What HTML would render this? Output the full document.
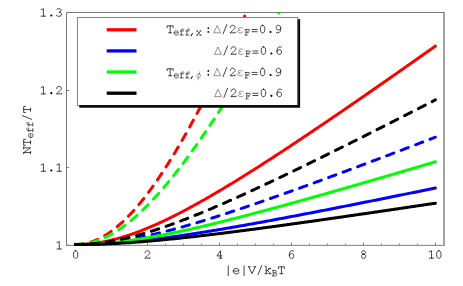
<!DOCTYPE html>
<html><head><meta charset="utf-8"><title>plot</title>
<style>html,body{margin:0;padding:0;background:#fff;}svg{display:block;}</style>
</head><body>
<svg width="463" height="286" viewBox="0 0 463 286">
<rect width="463" height="286" fill="#fff"/>
<defs><clipPath id="c"><rect x="66.5" y="18" width="378" height="227.9"/></clipPath><clipPath id="c2"><rect x="66.5" y="12.5" width="378" height="5.8"/></clipPath></defs>
<path d="M66.5 245.8V12.5H444" fill="none" stroke="#787878" stroke-width="1"/>
<path d="M444 12V245.85" fill="none" stroke="#484848" stroke-width="1"/>
<path d="M66 245.35H444.5" fill="none" stroke="#808080" stroke-width="1"/>
<path d="M75.50 245v-2.4 M93.50 245v-1.4 M111.50 245v-1.4 M129.50 245v-1.4 M147.50 245v-2.4 M165.50 245v-1.4 M183.50 245v-1.4 M201.50 245v-1.4 M219.50 245v-2.4 M237.50 245v-1.4 M255.50 245v-1.4 M273.50 245v-1.4 M291.50 245v-2.4 M309.50 245v-1.4 M327.50 245v-1.4 M345.50 245v-1.4 M363.50 245v-2.4 M381.50 245v-1.4 M399.50 245v-1.4 M417.50 245v-1.4 M435.50 245v-2.4 M67 167.50h2.4 M67 90.50h2.4 M67 245.35h2.4" stroke="#808080" stroke-width="1" fill="none"/>
<g clip-path="url(#c)" fill="none" stroke-width="3" stroke-linecap="round">
<path d="M75.40 244.50 L76.60 244.50 L77.80 244.48 L79.00 244.46 L80.20 244.42 L81.40 244.38 L82.60 244.32 L83.80 244.26 L85.00 244.18 L86.20 244.10 L87.40 244.00 L88.60 243.90 L89.80 243.78 L91.00 243.66 L92.20 243.53 L93.40 243.38 L94.60 243.23 L95.80 243.07 L97.00 242.90 L98.20 242.72 L99.40 242.53 L100.60 242.33 L101.80 242.12 L103.00 241.90 L104.20 241.67 L105.40 241.44 L106.60 241.19 L107.80 240.94 L109.00 240.67 L110.20 240.40 L111.40 240.12 L112.60 239.83 L113.80 239.54 L115.00 239.23 L116.20 238.92 L117.40 238.60 L118.60 238.27 L119.80 237.93 L121.00 237.59 L122.20 237.23 L123.40 236.87 L124.60 236.50 L125.80 236.13 L127.00 235.75 L128.20 235.36 L129.40 234.96 L130.60 234.55 L131.80 234.14 L133.00 233.72 L134.20 233.30 L135.40 232.87 L136.60 232.43 L137.80 231.98 L139.00 231.53 L140.20 231.07 L141.40 230.61 L142.60 230.14 L143.80 229.66 L145.00 229.18 L146.20 228.69 L147.40 228.20 L148.60 227.70 L149.80 227.20 L151.00 226.69 L152.20 226.17 L153.40 225.65 L154.60 225.12 L155.80 224.59 L157.00 224.05 L158.20 223.51 L159.40 222.97 L160.60 222.41 L161.80 221.86 L163.00 221.30 L164.20 220.73 L165.40 220.16 L166.60 219.59 L167.80 219.01 L169.00 218.43 L170.20 217.84 L171.40 217.25 L172.60 216.65 L173.80 216.05 L175.00 215.45 L176.20 214.84 L177.40 214.23 L178.60 213.62 L179.80 213.00 L181.00 212.38 L182.20 211.75 L183.40 211.12 L184.60 210.49 L185.80 209.85 L187.00 209.22 L188.20 208.57 L189.40 207.93 L190.60 207.28 L191.80 206.63 L193.00 205.97 L194.20 205.31 L195.40 204.65 L196.60 203.99 L197.80 203.32 L199.00 202.65 L200.20 201.98 L201.40 201.30 L202.60 200.63 L203.80 199.95 L205.00 199.26 L206.20 198.58 L207.40 197.89 L208.60 197.20 L209.80 196.51 L211.00 195.81 L212.20 195.11 L213.40 194.41 L214.60 193.71 L215.80 193.01 L217.00 192.30 L218.20 191.59 L219.40 190.88 L220.60 190.17 L221.80 189.45 L223.00 188.73 L224.20 188.02 L225.40 187.29 L226.60 186.57 L227.80 185.85 L229.00 185.12 L230.20 184.39 L231.40 183.66 L232.60 182.93 L233.80 182.19 L235.00 181.46 L236.20 180.72 L237.40 179.98 L238.60 179.24 L239.80 178.50 L241.00 177.76 L242.20 177.01 L243.40 176.26 L244.60 175.51 L245.80 174.76 L247.00 174.01 L248.20 173.26 L249.40 172.51 L250.60 171.75 L251.80 170.99 L253.00 170.23 L254.20 169.47 L255.40 168.71 L256.60 167.95 L257.80 167.19 L259.00 166.42 L260.20 165.66 L261.40 164.89 L262.60 164.12 L263.80 163.35 L265.00 162.58 L266.20 161.81 L267.40 161.03 L268.60 160.26 L269.80 159.48 L271.00 158.70 L272.20 157.93 L273.40 157.15 L274.60 156.37 L275.80 155.59 L277.00 154.80 L278.20 154.02 L279.40 153.24 L280.60 152.45 L281.80 151.67 L283.00 150.88 L284.20 150.09 L285.40 149.30 L286.60 148.51 L287.80 147.72 L289.00 146.93 L290.20 146.14 L291.40 145.34 L292.60 144.55 L293.80 143.75 L295.00 142.96 L296.20 142.16 L297.40 141.36 L298.60 140.56 L299.80 139.77 L301.00 138.97 L302.20 138.16 L303.40 137.36 L304.60 136.56 L305.80 135.76 L307.00 134.95 L308.20 134.15 L309.40 133.34 L310.60 132.54 L311.80 131.73 L313.00 130.92 L314.20 130.12 L315.40 129.31 L316.60 128.50 L317.80 127.69 L319.00 126.88 L320.20 126.07 L321.40 125.26 L322.60 124.44 L323.80 123.63 L325.00 122.82 L326.20 122.00 L327.40 121.19 L328.60 120.37 L329.80 119.56 L331.00 118.74 L332.20 117.92 L333.40 117.10 L334.60 116.29 L335.80 115.47 L337.00 114.65 L338.20 113.83 L339.40 113.01 L340.60 112.19 L341.80 111.36 L343.00 110.54 L344.20 109.72 L345.40 108.90 L346.60 108.07 L347.80 107.25 L349.00 106.43 L350.20 105.60 L351.40 104.78 L352.60 103.95 L353.80 103.12 L355.00 102.30 L356.20 101.47 L357.40 100.64 L358.60 99.81 L359.80 98.99 L361.00 98.16 L362.20 97.33 L363.40 96.50 L364.60 95.67 L365.80 94.84 L367.00 94.01 L368.20 93.17 L369.40 92.34 L370.60 91.51 L371.80 90.68 L373.00 89.84 L374.20 89.01 L375.40 88.18 L376.60 87.34 L377.80 86.51 L379.00 85.67 L380.20 84.84 L381.40 84.00 L382.60 83.17 L383.80 82.33 L385.00 81.50 L386.20 80.66 L387.40 79.82 L388.60 78.98 L389.80 78.15 L391.00 77.31 L392.20 76.47 L393.40 75.63 L394.60 74.79 L395.80 73.95 L397.00 73.11 L398.20 72.27 L399.40 71.43 L400.60 70.59 L401.80 69.75 L403.00 68.91 L404.20 68.07 L405.40 67.22 L406.60 66.38 L407.80 65.54 L409.00 64.70 L410.20 63.85 L411.40 63.01 L412.60 62.17 L413.80 61.32 L415.00 60.48 L416.20 59.63 L417.40 58.79 L418.60 57.94 L419.80 57.10 L421.00 56.25 L422.20 55.41 L423.40 54.56 L424.60 53.72 L425.80 52.87 L427.00 52.02 L428.20 51.18 L429.40 50.33 L430.60 49.48 L431.80 48.63 L433.00 47.79 L434.20 46.94 L435.40 46.09" stroke="#ff0000"/>
<path d="M75.40 244.50 L76.60 244.48 L77.80 244.44 L79.00 244.36 L80.20 244.26 L81.40 244.12 L82.60 243.96 L83.80 243.76 L85.00 243.54 L86.20 243.28 L87.40 243.00 L88.60 242.68 L89.80 242.34 L91.00 241.96 L92.20 241.56 L93.40 241.13 L94.60 240.67 L95.80 240.17 L97.00 239.65 L98.20 239.11 L99.40 238.53 L100.60 237.92 L101.80 237.28 L103.00 236.62 L104.20 235.93 L105.40 235.21 L106.60 234.46 L107.80 233.69 L109.00 232.88 L110.20 232.05 L111.40 231.19 L112.60 230.31 L113.80 229.40 L115.00 228.46 L116.20 227.49 L117.40 226.50 L118.60 225.48 L119.80 224.44 L121.00 223.37 L122.20 222.28 L123.40 221.16 L124.60 220.02 L125.80 218.85 L127.00 217.65 L128.20 216.43 L129.40 215.19 L130.60 213.93 L131.80 212.64 L133.00 211.32 L134.20 209.99 L135.40 208.63 L136.60 207.25 L137.80 205.84 L139.00 204.41 L140.20 202.97 L141.40 201.50 L142.60 200.00 L143.80 198.49 L145.00 196.96 L146.20 195.40 L147.40 193.82 L148.60 192.23 L149.80 190.61 L151.00 188.97 L152.20 187.32 L153.40 185.64 L154.60 183.95 L155.80 182.23 L157.00 180.50 L158.20 178.75 L159.40 176.98 L160.60 175.19 L161.80 173.39 L163.00 171.57 L164.20 169.73 L165.40 167.87 L166.60 165.99 L167.80 164.10 L169.00 162.19 L170.20 160.27 L171.40 158.33 L172.60 156.37 L173.80 154.40 L175.00 152.41 L176.20 150.41 L177.40 148.39 L178.60 146.36 L179.80 144.31 L181.00 142.25 L182.20 140.17 L183.40 138.08 L184.60 135.98 L185.80 133.86 L187.00 131.73 L188.20 129.58 L189.40 127.42 L190.60 125.25 L191.80 123.07 L193.00 120.87 L194.20 118.66 L195.40 116.44 L196.60 114.20 L197.80 111.96 L199.00 109.70 L200.20 107.43 L201.40 105.15 L202.60 102.85 L203.80 100.55 L205.00 98.23 L206.20 95.91 L207.40 93.57 L208.60 91.22 L209.80 88.86 L211.00 86.49 L212.20 84.12 L213.40 81.73 L214.60 79.33 L215.80 76.92 L217.00 74.50 L218.20 72.07 L219.40 69.63 L220.60 67.19 L221.80 64.73 L223.00 62.27 L224.20 59.79 L225.40 57.31 L226.60 54.82 L227.80 52.32 L229.00 49.81 L230.20 47.29 L231.40 44.77 L232.60 42.23 L233.80 39.69 L235.00 37.14 L236.20 34.59 L237.40 32.02 L238.60 29.45 L239.80 26.87 L241.00 24.28 L242.20 21.69 L243.40 19.09 L244.60 16.48 L245.80 13.86 L247.00 11.24 L248.20 8.61 L249.40 5.97 L250.60 3.33 L251.80 0.68 L253.00 -1.97 L254.20 -4.64 L255.40 -7.30 L256.60 -9.98 L257.80 -12.66 L259.00 -15.35 L260.20 -18.04 L261.40 -20.74 L262.60 -23.44 L263.80 -26.15 L265.00 -28.87 L266.20 -31.59 L267.40 -34.32 L268.60 -37.05 L269.80 -39.79 L271.00 -42.54 L272.20 -45.28 L273.40 -48.04 L274.60 -50.80 L275.80 -53.56 L277.00 -56.33 L278.20 -59.11 L279.40 -61.89 L280.60 -64.67 L281.80 -67.46 L283.00 -70.25 L284.20 -73.05 L285.40 -75.85 L286.60 -78.66 L287.80 -81.47 L289.00 -84.29 L290.20 -87.11 L291.40 -89.94 L292.60 -92.76 L293.80 -95.60 L295.00 -98.44 L296.20 -101.28 L297.40 -104.12 L298.60 -106.97 L299.80 -109.83 L301.00 -112.69 L302.20 -115.55 L303.40 -118.41 L304.60 -121.28 L305.80 -124.15 L307.00 -127.03 L308.20 -129.91 L309.40 -132.80 L310.60 -135.68 L311.80 -138.58 L313.00 -141.47 L314.20 -144.37 L315.40 -147.27 L316.60 -150.17 L317.80 -153.08 L319.00 -155.99 L320.20 -158.91 L321.40 -161.83 L322.60 -164.75 L323.80 -167.67 L325.00 -170.60 L326.20 -173.53 L327.40 -176.46 L328.60 -179.40 L329.80 -182.34 L331.00 -185.28 L332.20 -188.23 L333.40 -191.18 L334.60 -194.13 L335.80 -197.08 L337.00 -200.04 L338.20 -203.00 L339.40 -205.96 L340.60 -208.93 L341.80 -211.89 L343.00 -214.86 L344.20 -217.84 L345.40 -220.81 L346.60 -223.79 L347.80 -226.77 L349.00 -229.75 L350.20 -232.74 L351.40 -235.73 L352.60 -238.72 L353.80 -241.71 L355.00 -244.71 L356.20 -247.70 L357.40 -250.70 L358.60 -253.71 L359.80 -256.71 L361.00 -259.72 L362.20 -262.73 L363.40 -265.74 L364.60 -268.75 L365.80 -271.76 L367.00 -274.78 L368.20 -277.80 L369.40 -280.82 L370.60 -283.85 L371.80 -286.87 L373.00 -289.90 L374.20 -292.93 L375.40 -295.96 L376.60 -299.00 L377.80 -302.03 L379.00 -305.07 L380.20 -308.11 L381.40 -311.15 L382.60 -314.20 L383.80 -317.24 L385.00 -320.29 L386.20 -323.34 L387.40 -326.39 L388.60 -329.44 L389.80 -332.49 L391.00 -335.55 L392.20 -338.61 L393.40 -341.67 L394.60 -344.73 L395.80 -347.79 L397.00 -350.86 L398.20 -353.92 L399.40 -356.99 L400.60 -360.06 L401.80 -363.13 L403.00 -366.20 L404.20 -369.28 L405.40 -372.35 L406.60 -375.43 L407.80 -378.51 L409.00 -381.59 L410.20 -384.67 L411.40 -387.76 L412.60 -390.84 L413.80 -393.93 L415.00 -397.01 L416.20 -400.10 L417.40 -403.19 L418.60 -406.29 L419.80 -409.38 L421.00 -412.47 L422.20 -415.57 L423.40 -418.67 L424.60 -421.77 L425.80 -424.87 L427.00 -427.97 L428.20 -431.07 L429.40 -434.18 L430.60 -437.28 L431.80 -440.39 L433.00 -443.50 L434.20 -446.60 L435.40 -449.72" stroke="#ff0000" stroke-dasharray="7.74 7.74"/>
<path d="M75.40 244.50 L76.60 244.50 L77.80 244.49 L79.00 244.49 L80.20 244.48 L81.40 244.47 L82.60 244.45 L83.80 244.43 L85.00 244.41 L86.20 244.39 L87.40 244.36 L88.60 244.34 L89.80 244.31 L91.00 244.27 L92.20 244.24 L93.40 244.20 L94.60 244.16 L95.80 244.11 L97.00 244.07 L98.20 244.02 L99.40 243.96 L100.60 243.91 L101.80 243.85 L103.00 243.79 L104.20 243.73 L105.40 243.67 L106.60 243.60 L107.80 243.53 L109.00 243.46 L110.20 243.39 L111.40 243.31 L112.60 243.23 L113.80 243.15 L115.00 243.07 L116.20 242.98 L117.40 242.89 L118.60 242.80 L119.80 242.71 L121.00 242.62 L122.20 242.52 L123.40 242.42 L124.60 242.32 L125.80 242.22 L127.00 242.11 L128.20 242.01 L129.40 241.90 L130.60 241.78 L131.80 241.67 L133.00 241.56 L134.20 241.44 L135.40 241.32 L136.60 241.20 L137.80 241.08 L139.00 240.95 L140.20 240.83 L141.40 240.70 L142.60 240.57 L143.80 240.44 L145.00 240.30 L146.20 240.17 L147.40 240.03 L148.60 239.89 L149.80 239.75 L151.00 239.61 L152.20 239.47 L153.40 239.33 L154.60 239.18 L155.80 239.03 L157.00 238.88 L158.20 238.73 L159.40 238.58 L160.60 238.43 L161.80 238.27 L163.00 238.12 L164.20 237.96 L165.40 237.80 L166.60 237.64 L167.80 237.48 L169.00 237.32 L170.20 237.15 L171.40 236.99 L172.60 236.82 L173.80 236.65 L175.00 236.49 L176.20 236.32 L177.40 236.15 L178.60 235.97 L179.80 235.80 L181.00 235.63 L182.20 235.45 L183.40 235.27 L184.60 235.10 L185.80 234.92 L187.00 234.74 L188.20 234.56 L189.40 234.38 L190.60 234.19 L191.80 234.01 L193.00 233.83 L194.20 233.64 L195.40 233.46 L196.60 233.27 L197.80 233.08 L199.00 232.89 L200.20 232.70 L201.40 232.51 L202.60 232.32 L203.80 232.13 L205.00 231.94 L206.20 231.74 L207.40 231.55 L208.60 231.35 L209.80 231.16 L211.00 230.96 L212.20 230.77 L213.40 230.57 L214.60 230.37 L215.80 230.17 L217.00 229.97 L218.20 229.77 L219.40 229.57 L220.60 229.37 L221.80 229.16 L223.00 228.96 L224.20 228.76 L225.40 228.55 L226.60 228.35 L227.80 228.14 L229.00 227.93 L230.20 227.73 L231.40 227.52 L232.60 227.31 L233.80 227.10 L235.00 226.90 L236.20 226.69 L237.40 226.48 L238.60 226.27 L239.80 226.05 L241.00 225.84 L242.20 225.63 L243.40 225.42 L244.60 225.21 L245.80 224.99 L247.00 224.78 L248.20 224.56 L249.40 224.35 L250.60 224.13 L251.80 223.92 L253.00 223.70 L254.20 223.48 L255.40 223.27 L256.60 223.05 L257.80 222.83 L259.00 222.61 L260.20 222.40 L261.40 222.18 L262.60 221.96 L263.80 221.74 L265.00 221.52 L266.20 221.30 L267.40 221.08 L268.60 220.85 L269.80 220.63 L271.00 220.41 L272.20 220.19 L273.40 219.97 L274.60 219.74 L275.80 219.52 L277.00 219.30 L278.20 219.07 L279.40 218.85 L280.60 218.62 L281.80 218.40 L283.00 218.17 L284.20 217.95 L285.40 217.72 L286.60 217.50 L287.80 217.27 L289.00 217.04 L290.20 216.82 L291.40 216.59 L292.60 216.36 L293.80 216.13 L295.00 215.91 L296.20 215.68 L297.40 215.45 L298.60 215.22 L299.80 214.99 L301.00 214.76 L302.20 214.53 L303.40 214.30 L304.60 214.07 L305.80 213.84 L307.00 213.61 L308.20 213.38 L309.40 213.15 L310.60 212.92 L311.80 212.69 L313.00 212.46 L314.20 212.22 L315.40 211.99 L316.60 211.76 L317.80 211.53 L319.00 211.29 L320.20 211.06 L321.40 210.83 L322.60 210.59 L323.80 210.36 L325.00 210.13 L326.20 209.89 L327.40 209.66 L328.60 209.42 L329.80 209.19 L331.00 208.96 L332.20 208.72 L333.40 208.49 L334.60 208.25 L335.80 208.02 L337.00 207.78 L338.20 207.54 L339.40 207.31 L340.60 207.07 L341.80 206.84 L343.00 206.60 L344.20 206.36 L345.40 206.13 L346.60 205.89 L347.80 205.65 L349.00 205.41 L350.20 205.18 L351.40 204.94 L352.60 204.70 L353.80 204.46 L355.00 204.23 L356.20 203.99 L357.40 203.75 L358.60 203.51 L359.80 203.27 L361.00 203.03 L362.20 202.80 L363.40 202.56 L364.60 202.32 L365.80 202.08 L367.00 201.84 L368.20 201.60 L369.40 201.36 L370.60 201.12 L371.80 200.88 L373.00 200.64 L374.20 200.40 L375.40 200.16 L376.60 199.92 L377.80 199.68 L379.00 199.44 L380.20 199.20 L381.40 198.96 L382.60 198.72 L383.80 198.48 L385.00 198.23 L386.20 197.99 L387.40 197.75 L388.60 197.51 L389.80 197.27 L391.00 197.03 L392.20 196.78 L393.40 196.54 L394.60 196.30 L395.80 196.06 L397.00 195.82 L398.20 195.57 L399.40 195.33 L400.60 195.09 L401.80 194.85 L403.00 194.60 L404.20 194.36 L405.40 194.12 L406.60 193.88 L407.80 193.63 L409.00 193.39 L410.20 193.15 L411.40 192.90 L412.60 192.66 L413.80 192.42 L415.00 192.17 L416.20 191.93 L417.40 191.68 L418.60 191.44 L419.80 191.20 L421.00 190.95 L422.20 190.71 L423.40 190.46 L424.60 190.22 L425.80 189.98 L427.00 189.73 L428.20 189.49 L429.40 189.24 L430.60 189.00 L431.80 188.75 L433.00 188.51 L434.20 188.26 L435.40 188.02" stroke="#0000ff"/>
<path d="M75.40 244.50 L76.60 244.50 L77.80 244.49 L79.00 244.48 L80.20 244.46 L81.40 244.43 L82.60 244.40 L83.80 244.37 L85.00 244.33 L86.20 244.28 L87.40 244.23 L88.60 244.18 L89.80 244.12 L91.00 244.05 L92.20 243.98 L93.40 243.91 L94.60 243.82 L95.80 243.74 L97.00 243.65 L98.20 243.55 L99.40 243.45 L100.60 243.34 L101.80 243.23 L103.00 243.11 L104.20 242.99 L105.40 242.87 L106.60 242.74 L107.80 242.60 L109.00 242.46 L110.20 242.32 L111.40 242.17 L112.60 242.01 L113.80 241.85 L115.00 241.69 L116.20 241.52 L117.40 241.35 L118.60 241.18 L119.80 241.00 L121.00 240.81 L122.20 240.62 L123.40 240.43 L124.60 240.23 L125.80 240.03 L127.00 239.83 L128.20 239.62 L129.40 239.41 L130.60 239.19 L131.80 238.97 L133.00 238.75 L134.20 238.52 L135.40 238.29 L136.60 238.05 L137.80 237.82 L139.00 237.57 L140.20 237.33 L141.40 237.08 L142.60 236.83 L143.80 236.57 L145.00 236.32 L146.20 236.05 L147.40 235.79 L148.60 235.52 L149.80 235.25 L151.00 234.98 L152.20 234.70 L153.40 234.42 L154.60 234.14 L155.80 233.85 L157.00 233.57 L158.20 233.27 L159.40 232.98 L160.60 232.68 L161.80 232.39 L163.00 232.09 L164.20 231.78 L165.40 231.48 L166.60 231.17 L167.80 230.86 L169.00 230.54 L170.20 230.23 L171.40 229.91 L172.60 229.59 L173.80 229.27 L175.00 228.94 L176.20 228.62 L177.40 228.29 L178.60 227.96 L179.80 227.62 L181.00 227.29 L182.20 226.95 L183.40 226.61 L184.60 226.27 L185.80 225.93 L187.00 225.59 L188.20 225.24 L189.40 224.89 L190.60 224.54 L191.80 224.19 L193.00 223.84 L194.20 223.48 L195.40 223.13 L196.60 222.77 L197.80 222.41 L199.00 222.05 L200.20 221.69 L201.40 221.32 L202.60 220.96 L203.80 220.59 L205.00 220.22 L206.20 219.85 L207.40 219.48 L208.60 219.11 L209.80 218.73 L211.00 218.36 L212.20 217.98 L213.40 217.60 L214.60 217.22 L215.80 216.84 L217.00 216.46 L218.20 216.08 L219.40 215.70 L220.60 215.31 L221.80 214.92 L223.00 214.54 L224.20 214.15 L225.40 213.76 L226.60 213.37 L227.80 212.98 L229.00 212.58 L230.20 212.19 L231.40 211.80 L232.60 211.40 L233.80 211.00 L235.00 210.61 L236.20 210.21 L237.40 209.81 L238.60 209.41 L239.80 209.01 L241.00 208.60 L242.20 208.20 L243.40 207.80 L244.60 207.39 L245.80 206.99 L247.00 206.58 L248.20 206.17 L249.40 205.76 L250.60 205.35 L251.80 204.94 L253.00 204.53 L254.20 204.12 L255.40 203.71 L256.60 203.30 L257.80 202.88 L259.00 202.47 L260.20 202.06 L261.40 201.64 L262.60 201.22 L263.80 200.81 L265.00 200.39 L266.20 199.97 L267.40 199.55 L268.60 199.13 L269.80 198.71 L271.00 198.29 L272.20 197.87 L273.40 197.45 L274.60 197.03 L275.80 196.60 L277.00 196.18 L278.20 195.76 L279.40 195.33 L280.60 194.91 L281.80 194.48 L283.00 194.05 L284.20 193.63 L285.40 193.20 L286.60 192.77 L287.80 192.34 L289.00 191.91 L290.20 191.48 L291.40 191.05 L292.60 190.62 L293.80 190.19 L295.00 189.76 L296.20 189.33 L297.40 188.90 L298.60 188.46 L299.80 188.03 L301.00 187.60 L302.20 187.16 L303.40 186.73 L304.60 186.29 L305.80 185.86 L307.00 185.42 L308.20 184.99 L309.40 184.55 L310.60 184.11 L311.80 183.67 L313.00 183.24 L314.20 182.80 L315.40 182.36 L316.60 181.92 L317.80 181.48 L319.00 181.04 L320.20 180.60 L321.40 180.16 L322.60 179.72 L323.80 179.28 L325.00 178.84 L326.20 178.40 L327.40 177.95 L328.60 177.51 L329.80 177.07 L331.00 176.63 L332.20 176.18 L333.40 175.74 L334.60 175.30 L335.80 174.85 L337.00 174.41 L338.20 173.96 L339.40 173.52 L340.60 173.07 L341.80 172.63 L343.00 172.18 L344.20 171.73 L345.40 171.29 L346.60 170.84 L347.80 170.39 L349.00 169.94 L350.20 169.50 L351.40 169.05 L352.60 168.60 L353.80 168.15 L355.00 167.70 L356.20 167.25 L357.40 166.81 L358.60 166.36 L359.80 165.91 L361.00 165.46 L362.20 165.01 L363.40 164.56 L364.60 164.10 L365.80 163.65 L367.00 163.20 L368.20 162.75 L369.40 162.30 L370.60 161.85 L371.80 161.40 L373.00 160.94 L374.20 160.49 L375.40 160.04 L376.60 159.59 L377.80 159.13 L379.00 158.68 L380.20 158.23 L381.40 157.77 L382.60 157.32 L383.80 156.86 L385.00 156.41 L386.20 155.95 L387.40 155.50 L388.60 155.05 L389.80 154.59 L391.00 154.13 L392.20 153.68 L393.40 153.22 L394.60 152.77 L395.80 152.31 L397.00 151.86 L398.20 151.40 L399.40 150.94 L400.60 150.49 L401.80 150.03 L403.00 149.57 L404.20 149.12 L405.40 148.66 L406.60 148.20 L407.80 147.74 L409.00 147.29 L410.20 146.83 L411.40 146.37 L412.60 145.91 L413.80 145.45 L415.00 144.99 L416.20 144.54 L417.40 144.08 L418.60 143.62 L419.80 143.16 L421.00 142.70 L422.20 142.24 L423.40 141.78 L424.60 141.32 L425.80 140.86 L427.00 140.40 L428.20 139.94 L429.40 139.48 L430.60 139.02 L431.80 138.56 L433.00 138.10 L434.20 137.64 L435.40 137.18" stroke="#0000ff" stroke-dasharray="7.74 7.74"/>
<path d="M75.40 244.50 L76.60 244.50 L77.80 244.49 L79.00 244.48 L80.20 244.47 L81.40 244.45 L82.60 244.43 L83.80 244.40 L85.00 244.37 L86.20 244.33 L87.40 244.30 L88.60 244.25 L89.80 244.21 L91.00 244.16 L92.20 244.10 L93.40 244.04 L94.60 243.98 L95.80 243.91 L97.00 243.84 L98.20 243.77 L99.40 243.69 L100.60 243.61 L101.80 243.52 L103.00 243.43 L104.20 243.34 L105.40 243.24 L106.60 243.14 L107.80 243.04 L109.00 242.93 L110.20 242.82 L111.40 242.70 L112.60 242.58 L113.80 242.46 L115.00 242.34 L116.20 242.21 L117.40 242.08 L118.60 241.94 L119.80 241.80 L121.00 241.66 L122.20 241.51 L123.40 241.37 L124.60 241.21 L125.80 241.06 L127.00 240.90 L128.20 240.74 L129.40 240.58 L130.60 240.41 L131.80 240.24 L133.00 240.07 L134.20 239.89 L135.40 239.71 L136.60 239.53 L137.80 239.35 L139.00 239.16 L140.20 238.97 L141.40 238.78 L142.60 238.59 L143.80 238.39 L145.00 238.19 L146.20 237.99 L147.40 237.79 L148.60 237.58 L149.80 237.37 L151.00 237.16 L152.20 236.95 L153.40 236.73 L154.60 236.52 L155.80 236.30 L157.00 236.07 L158.20 235.85 L159.40 235.62 L160.60 235.40 L161.80 235.17 L163.00 234.93 L164.20 234.70 L165.40 234.47 L166.60 234.23 L167.80 233.99 L169.00 233.75 L170.20 233.50 L171.40 233.26 L172.60 233.01 L173.80 232.76 L175.00 232.51 L176.20 232.26 L177.40 232.01 L178.60 231.75 L179.80 231.50 L181.00 231.24 L182.20 230.98 L183.40 230.72 L184.60 230.46 L185.80 230.19 L187.00 229.93 L188.20 229.66 L189.40 229.39 L190.60 229.12 L191.80 228.85 L193.00 228.58 L194.20 228.31 L195.40 228.03 L196.60 227.76 L197.80 227.48 L199.00 227.20 L200.20 226.92 L201.40 226.64 L202.60 226.36 L203.80 226.08 L205.00 225.79 L206.20 225.51 L207.40 225.22 L208.60 224.94 L209.80 224.65 L211.00 224.36 L212.20 224.07 L213.40 223.78 L214.60 223.49 L215.80 223.19 L217.00 222.90 L218.20 222.60 L219.40 222.31 L220.60 222.01 L221.80 221.71 L223.00 221.41 L224.20 221.12 L225.40 220.82 L226.60 220.51 L227.80 220.21 L229.00 219.91 L230.20 219.61 L231.40 219.30 L232.60 219.00 L233.80 218.69 L235.00 218.39 L236.20 218.08 L237.40 217.77 L238.60 217.46 L239.80 217.15 L241.00 216.84 L242.20 216.53 L243.40 216.22 L244.60 215.91 L245.80 215.60 L247.00 215.28 L248.20 214.97 L249.40 214.65 L250.60 214.34 L251.80 214.02 L253.00 213.71 L254.20 213.39 L255.40 213.07 L256.60 212.76 L257.80 212.44 L259.00 212.12 L260.20 211.80 L261.40 211.48 L262.60 211.16 L263.80 210.84 L265.00 210.51 L266.20 210.19 L267.40 209.87 L268.60 209.55 L269.80 209.22 L271.00 208.90 L272.20 208.57 L273.40 208.25 L274.60 207.92 L275.80 207.60 L277.00 207.27 L278.20 206.94 L279.40 206.62 L280.60 206.29 L281.80 205.96 L283.00 205.63 L284.20 205.30 L285.40 204.97 L286.60 204.64 L287.80 204.31 L289.00 203.98 L290.20 203.65 L291.40 203.32 L292.60 202.99 L293.80 202.66 L295.00 202.33 L296.20 201.99 L297.40 201.66 L298.60 201.33 L299.80 200.99 L301.00 200.66 L302.20 200.32 L303.40 199.99 L304.60 199.65 L305.80 199.32 L307.00 198.98 L308.20 198.65 L309.40 198.31 L310.60 197.97 L311.80 197.64 L313.00 197.30 L314.20 196.96 L315.40 196.62 L316.60 196.29 L317.80 195.95 L319.00 195.61 L320.20 195.27 L321.40 194.93 L322.60 194.59 L323.80 194.25 L325.00 193.91 L326.20 193.57 L327.40 193.23 L328.60 192.89 L329.80 192.55 L331.00 192.21 L332.20 191.86 L333.40 191.52 L334.60 191.18 L335.80 190.84 L337.00 190.50 L338.20 190.15 L339.40 189.81 L340.60 189.47 L341.80 189.12 L343.00 188.78 L344.20 188.44 L345.40 188.09 L346.60 187.75 L347.80 187.40 L349.00 187.06 L350.20 186.71 L351.40 186.37 L352.60 186.02 L353.80 185.68 L355.00 185.33 L356.20 184.99 L357.40 184.64 L358.60 184.29 L359.80 183.95 L361.00 183.60 L362.20 183.25 L363.40 182.91 L364.60 182.56 L365.80 182.21 L367.00 181.86 L368.20 181.52 L369.40 181.17 L370.60 180.82 L371.80 180.47 L373.00 180.12 L374.20 179.77 L375.40 179.43 L376.60 179.08 L377.80 178.73 L379.00 178.38 L380.20 178.03 L381.40 177.68 L382.60 177.33 L383.80 176.98 L385.00 176.63 L386.20 176.28 L387.40 175.93 L388.60 175.58 L389.80 175.23 L391.00 174.88 L392.20 174.53 L393.40 174.18 L394.60 173.82 L395.80 173.47 L397.00 173.12 L398.20 172.77 L399.40 172.42 L400.60 172.07 L401.80 171.71 L403.00 171.36 L404.20 171.01 L405.40 170.66 L406.60 170.30 L407.80 169.95 L409.00 169.60 L410.20 169.25 L411.40 168.89 L412.60 168.54 L413.80 168.19 L415.00 167.83 L416.20 167.48 L417.40 167.13 L418.60 166.77 L419.80 166.42 L421.00 166.07 L422.20 165.71 L423.40 165.36 L424.60 165.00 L425.80 164.65 L427.00 164.29 L428.20 163.94 L429.40 163.59 L430.60 163.23 L431.80 162.88 L433.00 162.52 L434.20 162.17 L435.40 161.81" stroke="#00ff00"/>
<path d="M75.40 244.50 L76.60 244.49 L77.80 244.45 L79.00 244.40 L80.20 244.31 L81.40 244.21 L82.60 244.08 L83.80 243.93 L85.00 243.75 L86.20 243.56 L87.40 243.34 L88.60 243.09 L89.80 242.83 L91.00 242.54 L92.20 242.22 L93.40 241.89 L94.60 241.53 L95.80 241.15 L97.00 240.75 L98.20 240.32 L99.40 239.88 L100.60 239.41 L101.80 238.92 L103.00 238.40 L104.20 237.87 L105.40 237.31 L106.60 236.73 L107.80 236.13 L109.00 235.51 L110.20 234.87 L111.40 234.21 L112.60 233.52 L113.80 232.82 L115.00 232.10 L116.20 231.35 L117.40 230.59 L118.60 229.80 L119.80 229.00 L121.00 228.17 L122.20 227.33 L123.40 226.47 L124.60 225.59 L125.80 224.69 L127.00 223.77 L128.20 222.83 L129.40 221.87 L130.60 220.90 L131.80 219.91 L133.00 218.90 L134.20 217.87 L135.40 216.82 L136.60 215.76 L137.80 214.68 L139.00 213.59 L140.20 212.47 L141.40 211.34 L142.60 210.20 L143.80 209.04 L145.00 207.86 L146.20 206.67 L147.40 205.46 L148.60 204.24 L149.80 203.00 L151.00 201.74 L152.20 200.47 L153.40 199.19 L154.60 197.89 L155.80 196.58 L157.00 195.26 L158.20 193.92 L159.40 192.56 L160.60 191.20 L161.80 189.82 L163.00 188.42 L164.20 187.02 L165.40 185.60 L166.60 184.17 L167.80 182.72 L169.00 181.27 L170.20 179.80 L171.40 178.32 L172.60 176.83 L173.80 175.32 L175.00 173.81 L176.20 172.28 L177.40 170.75 L178.60 169.20 L179.80 167.64 L181.00 166.07 L182.20 164.49 L183.40 162.90 L184.60 161.29 L185.80 159.68 L187.00 158.06 L188.20 156.43 L189.40 154.79 L190.60 153.14 L191.80 151.48 L193.00 149.81 L194.20 148.13 L195.40 146.45 L196.60 144.75 L197.80 143.04 L199.00 141.33 L200.20 139.61 L201.40 137.88 L202.60 136.14 L203.80 134.39 L205.00 132.64 L206.20 130.87 L207.40 129.10 L208.60 127.33 L209.80 125.54 L211.00 123.75 L212.20 121.94 L213.40 120.14 L214.60 118.32 L215.80 116.50 L217.00 114.67 L218.20 112.83 L219.40 110.99 L220.60 109.14 L221.80 107.28 L223.00 105.42 L224.20 103.55 L225.40 101.67 L226.60 99.79 L227.80 97.90 L229.00 96.01 L230.20 94.11 L231.40 92.20 L232.60 90.29 L233.80 88.37 L235.00 86.45 L236.20 84.52 L237.40 82.59 L238.60 80.65 L239.80 78.70 L241.00 76.75 L242.20 74.80 L243.40 72.84 L244.60 70.87 L245.80 68.90 L247.00 66.92 L248.20 64.94 L249.40 62.96 L250.60 60.97 L251.80 58.97 L253.00 56.97 L254.20 54.97 L255.40 52.96 L256.60 50.95 L257.80 48.93 L259.00 46.91 L260.20 44.88 L261.40 42.85 L262.60 40.82 L263.80 38.78 L265.00 36.73 L266.20 34.69 L267.40 32.64 L268.60 30.58 L269.80 28.53 L271.00 26.46 L272.20 24.40 L273.40 22.33 L274.60 20.26 L275.80 18.18 L277.00 16.10 L278.20 14.02 L279.40 11.93 L280.60 9.84 L281.80 7.75 L283.00 5.65 L284.20 3.55 L285.40 1.44 L286.60 -0.66 L287.80 -2.77 L289.00 -4.89 L290.20 -7.00 L291.40 -9.12 L292.60 -11.24 L293.80 -13.37 L295.00 -15.50 L296.20 -17.63 L297.40 -19.76 L298.60 -21.90 L299.80 -24.04 L301.00 -26.18 L302.20 -28.32 L303.40 -30.47 L304.60 -32.62 L305.80 -34.78 L307.00 -36.93 L308.20 -39.09 L309.40 -41.25 L310.60 -43.41 L311.80 -45.58 L313.00 -47.75 L314.20 -49.92 L315.40 -52.09 L316.60 -54.26 L317.80 -56.44 L319.00 -58.62 L320.20 -60.80 L321.40 -62.99 L322.60 -65.18 L323.80 -67.36 L325.00 -69.56 L326.20 -71.75 L327.40 -73.94 L328.60 -76.14 L329.80 -78.34 L331.00 -80.54 L332.20 -82.75 L333.40 -84.95 L334.60 -87.16 L335.80 -89.37 L337.00 -91.58 L338.20 -93.79 L339.40 -96.01 L340.60 -98.23 L341.80 -100.44 L343.00 -102.67 L344.20 -104.89 L345.40 -107.11 L346.60 -109.34 L347.80 -111.57 L349.00 -113.80 L350.20 -116.03 L351.40 -118.26 L352.60 -120.50 L353.80 -122.73 L355.00 -124.97 L356.20 -127.21 L357.40 -129.45 L358.60 -131.69 L359.80 -133.94 L361.00 -136.19 L362.20 -138.43 L363.40 -140.68 L364.60 -142.93 L365.80 -145.19 L367.00 -147.44 L368.20 -149.69 L369.40 -151.95 L370.60 -154.21 L371.80 -156.47 L373.00 -158.73 L374.20 -160.99 L375.40 -163.26 L376.60 -165.52 L377.80 -167.79 L379.00 -170.05 L380.20 -172.32 L381.40 -174.59 L382.60 -176.87 L383.80 -179.14 L385.00 -181.41 L386.20 -183.69 L387.40 -185.96 L388.60 -188.24 L389.80 -190.52 L391.00 -192.80 L392.20 -195.08 L393.40 -197.37 L394.60 -199.65 L395.80 -201.94 L397.00 -204.22 L398.20 -206.51 L399.40 -208.80 L400.60 -211.09 L401.80 -213.38 L403.00 -215.67 L404.20 -217.96 L405.40 -220.26 L406.60 -222.55 L407.80 -224.85 L409.00 -227.15 L410.20 -229.44 L411.40 -231.74 L412.60 -234.04 L413.80 -236.35 L415.00 -238.65 L416.20 -240.95 L417.40 -243.26 L418.60 -245.56 L419.80 -247.87 L421.00 -250.17 L422.20 -252.48 L423.40 -254.79 L424.60 -257.10 L425.80 -259.41 L427.00 -261.72 L428.20 -264.04 L429.40 -266.35 L430.60 -268.66 L431.80 -270.98 L433.00 -273.30 L434.20 -275.61 L435.40 -277.93" stroke="#00ff00" stroke-dasharray="7.74 7.74"/>
<path d="M75.40 244.50 L76.60 244.50 L77.80 244.50 L79.00 244.49 L80.20 244.48 L81.40 244.48 L82.60 244.46 L83.80 244.45 L85.00 244.44 L86.20 244.42 L87.40 244.40 L88.60 244.38 L89.80 244.36 L91.00 244.33 L92.20 244.31 L93.40 244.28 L94.60 244.25 L95.80 244.22 L97.00 244.18 L98.20 244.15 L99.40 244.11 L100.60 244.07 L101.80 244.03 L103.00 243.98 L104.20 243.94 L105.40 243.89 L106.60 243.84 L107.80 243.79 L109.00 243.74 L110.20 243.69 L111.40 243.63 L112.60 243.57 L113.80 243.51 L115.00 243.45 L116.20 243.39 L117.40 243.33 L118.60 243.26 L119.80 243.19 L121.00 243.12 L122.20 243.05 L123.40 242.98 L124.60 242.91 L125.80 242.83 L127.00 242.75 L128.20 242.68 L129.40 242.60 L130.60 242.52 L131.80 242.43 L133.00 242.35 L134.20 242.26 L135.40 242.18 L136.60 242.09 L137.80 242.00 L139.00 241.91 L140.20 241.81 L141.40 241.72 L142.60 241.63 L143.80 241.53 L145.00 241.43 L146.20 241.33 L147.40 241.23 L148.60 241.13 L149.80 241.03 L151.00 240.93 L152.20 240.82 L153.40 240.72 L154.60 240.61 L155.80 240.50 L157.00 240.39 L158.20 240.28 L159.40 240.17 L160.60 240.06 L161.80 239.95 L163.00 239.83 L164.20 239.72 L165.40 239.60 L166.60 239.49 L167.80 239.37 L169.00 239.25 L170.20 239.13 L171.40 239.01 L172.60 238.89 L173.80 238.76 L175.00 238.64 L176.20 238.52 L177.40 238.39 L178.60 238.27 L179.80 238.14 L181.00 238.01 L182.20 237.88 L183.40 237.75 L184.60 237.63 L185.80 237.49 L187.00 237.36 L188.20 237.23 L189.40 237.10 L190.60 236.97 L191.80 236.83 L193.00 236.70 L194.20 236.56 L195.40 236.43 L196.60 236.29 L197.80 236.15 L199.00 236.01 L200.20 235.88 L201.40 235.74 L202.60 235.60 L203.80 235.46 L205.00 235.32 L206.20 235.17 L207.40 235.03 L208.60 234.89 L209.80 234.75 L211.00 234.60 L212.20 234.46 L213.40 234.31 L214.60 234.17 L215.80 234.02 L217.00 233.88 L218.20 233.73 L219.40 233.58 L220.60 233.44 L221.80 233.29 L223.00 233.14 L224.20 232.99 L225.40 232.84 L226.60 232.69 L227.80 232.54 L229.00 232.39 L230.20 232.24 L231.40 232.09 L232.60 231.93 L233.80 231.78 L235.00 231.63 L236.20 231.48 L237.40 231.32 L238.60 231.17 L239.80 231.01 L241.00 230.86 L242.20 230.70 L243.40 230.55 L244.60 230.39 L245.80 230.24 L247.00 230.08 L248.20 229.92 L249.40 229.77 L250.60 229.61 L251.80 229.45 L253.00 229.29 L254.20 229.14 L255.40 228.98 L256.60 228.82 L257.80 228.66 L259.00 228.50 L260.20 228.34 L261.40 228.18 L262.60 228.02 L263.80 227.86 L265.00 227.70 L266.20 227.54 L267.40 227.38 L268.60 227.21 L269.80 227.05 L271.00 226.89 L272.20 226.73 L273.40 226.56 L274.60 226.40 L275.80 226.24 L277.00 226.07 L278.20 225.91 L279.40 225.75 L280.60 225.58 L281.80 225.42 L283.00 225.25 L284.20 225.09 L285.40 224.92 L286.60 224.76 L287.80 224.59 L289.00 224.43 L290.20 224.26 L291.40 224.09 L292.60 223.93 L293.80 223.76 L295.00 223.60 L296.20 223.43 L297.40 223.26 L298.60 223.09 L299.80 222.93 L301.00 222.76 L302.20 222.59 L303.40 222.42 L304.60 222.25 L305.80 222.09 L307.00 221.92 L308.20 221.75 L309.40 221.58 L310.60 221.41 L311.80 221.24 L313.00 221.07 L314.20 220.90 L315.40 220.73 L316.60 220.56 L317.80 220.39 L319.00 220.22 L320.20 220.05 L321.40 219.88 L322.60 219.71 L323.80 219.54 L325.00 219.37 L326.20 219.20 L327.40 219.03 L328.60 218.86 L329.80 218.69 L331.00 218.51 L332.20 218.34 L333.40 218.17 L334.60 218.00 L335.80 217.83 L337.00 217.65 L338.20 217.48 L339.40 217.31 L340.60 217.14 L341.80 216.96 L343.00 216.79 L344.20 216.62 L345.40 216.45 L346.60 216.27 L347.80 216.10 L349.00 215.93 L350.20 215.75 L351.40 215.58 L352.60 215.40 L353.80 215.23 L355.00 215.06 L356.20 214.88 L357.40 214.71 L358.60 214.53 L359.80 214.36 L361.00 214.19 L362.20 214.01 L363.40 213.84 L364.60 213.66 L365.80 213.49 L367.00 213.31 L368.20 213.14 L369.40 212.96 L370.60 212.79 L371.80 212.61 L373.00 212.43 L374.20 212.26 L375.40 212.08 L376.60 211.91 L377.80 211.73 L379.00 211.56 L380.20 211.38 L381.40 211.20 L382.60 211.03 L383.80 210.85 L385.00 210.68 L386.20 210.50 L387.40 210.32 L388.60 210.15 L389.80 209.97 L391.00 209.79 L392.20 209.62 L393.40 209.44 L394.60 209.26 L395.80 209.09 L397.00 208.91 L398.20 208.73 L399.40 208.55 L400.60 208.38 L401.80 208.20 L403.00 208.02 L404.20 207.84 L405.40 207.67 L406.60 207.49 L407.80 207.31 L409.00 207.13 L410.20 206.96 L411.40 206.78 L412.60 206.60 L413.80 206.42 L415.00 206.24 L416.20 206.07 L417.40 205.89 L418.60 205.71 L419.80 205.53 L421.00 205.35 L422.20 205.17 L423.40 204.99 L424.60 204.82 L425.80 204.64 L427.00 204.46 L428.20 204.28 L429.40 204.10 L430.60 203.92 L431.80 203.74 L433.00 203.56 L434.20 203.39 L435.40 203.21" stroke="#000000"/>
<path d="M75.40 244.50 L76.60 244.50 L77.80 244.49 L79.00 244.47 L80.20 244.44 L81.40 244.41 L82.60 244.37 L83.80 244.32 L85.00 244.26 L86.20 244.20 L87.40 244.13 L88.60 244.05 L89.80 243.97 L91.00 243.88 L92.20 243.78 L93.40 243.67 L94.60 243.56 L95.80 243.44 L97.00 243.31 L98.20 243.18 L99.40 243.04 L100.60 242.89 L101.80 242.74 L103.00 242.58 L104.20 242.41 L105.40 242.23 L106.60 242.05 L107.80 241.87 L109.00 241.67 L110.20 241.47 L111.40 241.26 L112.60 241.05 L113.80 240.83 L115.00 240.61 L116.20 240.38 L117.40 240.14 L118.60 239.90 L119.80 239.65 L121.00 239.39 L122.20 239.13 L123.40 238.87 L124.60 238.60 L125.80 238.32 L127.00 238.04 L128.20 237.75 L129.40 237.46 L130.60 237.16 L131.80 236.85 L133.00 236.55 L134.20 236.23 L135.40 235.92 L136.60 235.59 L137.80 235.27 L139.00 234.93 L140.20 234.60 L141.40 234.26 L142.60 233.91 L143.80 233.56 L145.00 233.20 L146.20 232.85 L147.40 232.48 L148.60 232.12 L149.80 231.75 L151.00 231.37 L152.20 230.99 L153.40 230.61 L154.60 230.22 L155.80 229.83 L157.00 229.44 L158.20 229.04 L159.40 228.64 L160.60 228.24 L161.80 227.83 L163.00 227.42 L164.20 227.00 L165.40 226.58 L166.60 226.16 L167.80 225.74 L169.00 225.31 L170.20 224.88 L171.40 224.45 L172.60 224.01 L173.80 223.57 L175.00 223.13 L176.20 222.69 L177.40 222.24 L178.60 221.79 L179.80 221.34 L181.00 220.88 L182.20 220.42 L183.40 219.96 L184.60 219.50 L185.80 219.03 L187.00 218.57 L188.20 218.10 L189.40 217.62 L190.60 217.15 L191.80 216.67 L193.00 216.19 L194.20 215.71 L195.40 215.23 L196.60 214.74 L197.80 214.25 L199.00 213.77 L200.20 213.27 L201.40 212.78 L202.60 212.29 L203.80 211.79 L205.00 211.29 L206.20 210.79 L207.40 210.29 L208.60 209.78 L209.80 209.28 L211.00 208.77 L212.20 208.26 L213.40 207.75 L214.60 207.23 L215.80 206.72 L217.00 206.20 L218.20 205.69 L219.40 205.17 L220.60 204.65 L221.80 204.13 L223.00 203.60 L224.20 203.08 L225.40 202.55 L226.60 202.03 L227.80 201.50 L229.00 200.97 L230.20 200.44 L231.40 199.90 L232.60 199.37 L233.80 198.83 L235.00 198.30 L236.20 197.76 L237.40 197.22 L238.60 196.68 L239.80 196.14 L241.00 195.60 L242.20 195.05 L243.40 194.51 L244.60 193.96 L245.80 193.42 L247.00 192.87 L248.20 192.32 L249.40 191.77 L250.60 191.22 L251.80 190.67 L253.00 190.12 L254.20 189.56 L255.40 189.01 L256.60 188.45 L257.80 187.90 L259.00 187.34 L260.20 186.78 L261.40 186.22 L262.60 185.66 L263.80 185.10 L265.00 184.54 L266.20 183.98 L267.40 183.42 L268.60 182.85 L269.80 182.29 L271.00 181.72 L272.20 181.16 L273.40 180.59 L274.60 180.02 L275.80 179.45 L277.00 178.88 L278.20 178.31 L279.40 177.74 L280.60 177.17 L281.80 176.60 L283.00 176.03 L284.20 175.45 L285.40 174.88 L286.60 174.31 L287.80 173.73 L289.00 173.16 L290.20 172.58 L291.40 172.00 L292.60 171.42 L293.80 170.85 L295.00 170.27 L296.20 169.69 L297.40 169.11 L298.60 168.53 L299.80 167.95 L301.00 167.36 L302.20 166.78 L303.40 166.20 L304.60 165.62 L305.80 165.03 L307.00 164.45 L308.20 163.86 L309.40 163.28 L310.60 162.69 L311.80 162.11 L313.00 161.52 L314.20 160.93 L315.40 160.34 L316.60 159.76 L317.80 159.17 L319.00 158.58 L320.20 157.99 L321.40 157.40 L322.60 156.81 L323.80 156.22 L325.00 155.62 L326.20 155.03 L327.40 154.44 L328.60 153.85 L329.80 153.26 L331.00 152.66 L332.20 152.07 L333.40 151.47 L334.60 150.88 L335.80 150.28 L337.00 149.69 L338.20 149.09 L339.40 148.50 L340.60 147.90 L341.80 147.30 L343.00 146.71 L344.20 146.11 L345.40 145.51 L346.60 144.91 L347.80 144.32 L349.00 143.72 L350.20 143.12 L351.40 142.52 L352.60 141.92 L353.80 141.32 L355.00 140.72 L356.20 140.12 L357.40 139.52 L358.60 138.91 L359.80 138.31 L361.00 137.71 L362.20 137.11 L363.40 136.51 L364.60 135.90 L365.80 135.30 L367.00 134.70 L368.20 134.09 L369.40 133.49 L370.60 132.88 L371.80 132.28 L373.00 131.68 L374.20 131.07 L375.40 130.47 L376.60 129.86 L377.80 129.25 L379.00 128.65 L380.20 128.04 L381.40 127.43 L382.60 126.83 L383.80 126.22 L385.00 125.61 L386.20 125.01 L387.40 124.40 L388.60 123.79 L389.80 123.18 L391.00 122.57 L392.20 121.96 L393.40 121.36 L394.60 120.75 L395.80 120.14 L397.00 119.53 L398.20 118.92 L399.40 118.31 L400.60 117.70 L401.80 117.09 L403.00 116.48 L404.20 115.87 L405.40 115.25 L406.60 114.64 L407.80 114.03 L409.00 113.42 L410.20 112.81 L411.40 112.20 L412.60 111.58 L413.80 110.97 L415.00 110.36 L416.20 109.75 L417.40 109.13 L418.60 108.52 L419.80 107.91 L421.00 107.29 L422.20 106.68 L423.40 106.07 L424.60 105.45 L425.80 104.84 L427.00 104.22 L428.20 103.61 L429.40 102.99 L430.60 102.38 L431.80 101.76 L433.00 101.15 L434.20 100.53 L435.40 99.92" stroke="#000000" stroke-dasharray="7.74 7.74"/>
</g>
<g clip-path="url(#c2)" fill="none" stroke-width="3" stroke-linecap="round">
<path d="M219.40 69.63 L219.54 69.34 L219.69 69.05 L219.83 68.75 L219.98 68.46 L220.12 68.17 L220.26 67.87 L220.41 67.58 L220.55 67.29 L220.70 66.99 L220.84 66.70 L220.98 66.40 L221.13 66.11 L221.27 65.81 L221.42 65.52 L221.56 65.22 L221.70 64.93 L221.85 64.63 L221.99 64.34 L222.14 64.04 L222.28 63.75 L222.42 63.45 L222.57 63.15 L222.71 62.86 L222.86 62.56 L223.00 62.27 L223.14 61.97 L223.29 61.67 L223.43 61.38 L223.58 61.08 L223.72 60.78 L223.86 60.49 L224.01 60.19 L224.15 59.89 L224.30 59.59 L224.44 59.30 L224.58 59.00 L224.73 58.70 L224.87 58.40 L225.02 58.10 L225.16 57.81 L225.30 57.51 L225.45 57.21 L225.59 56.91 L225.74 56.61 L225.88 56.31 L226.02 56.01 L226.17 55.72 L226.31 55.42 L226.46 55.12 L226.60 54.82 L226.74 54.52 L226.89 54.22 L227.03 53.92 L227.18 53.62 L227.32 53.32 L227.46 53.02 L227.61 52.72 L227.75 52.42 L227.90 52.12 L228.04 51.82 L228.18 51.52 L228.33 51.22 L228.47 50.91 L228.62 50.61 L228.76 50.31 L228.90 50.01 L229.05 49.71 L229.19 49.41 L229.34 49.11 L229.48 48.80 L229.62 48.50 L229.77 48.20 L229.91 47.90 L230.06 47.60 L230.20 47.29 L230.34 46.99 L230.49 46.69 L230.63 46.38 L230.78 46.08 L230.92 45.78 L231.06 45.48 L231.21 45.17 L231.35 44.87 L231.50 44.57 L231.64 44.26 L231.78 43.96 L231.93 43.65 L232.07 43.35 L232.22 43.05 L232.36 42.74 L232.50 42.44 L232.65 42.13 L232.79 41.83 L232.94 41.52 L233.08 41.22 L233.22 40.91 L233.37 40.61 L233.51 40.30 L233.66 40.00 L233.80 39.69 L233.94 39.39 L234.09 39.08 L234.23 38.78 L234.38 38.47 L234.52 38.16 L234.66 37.86 L234.81 37.55 L234.95 37.25 L235.10 36.94 L235.24 36.63 L235.38 36.33 L235.53 36.02 L235.67 35.71 L235.82 35.41 L235.96 35.10 L236.10 34.79 L236.25 34.48 L236.39 34.18 L236.54 33.87 L236.68 33.56 L236.82 33.25 L236.97 32.95 L237.11 32.64 L237.26 32.33 L237.40 32.02 L237.54 31.71 L237.69 31.41 L237.83 31.10 L237.98 30.79 L238.12 30.48 L238.26 30.17 L238.41 29.86 L238.55 29.55 L238.70 29.24 L238.84 28.93 L238.98 28.63 L239.13 28.32 L239.27 28.01 L239.42 27.70 L239.56 27.39 L239.70 27.08 L239.85 26.77 L239.99 26.46 L240.14 26.15 L240.28 25.84 L240.42 25.53 L240.57 25.22 L240.71 24.91 L240.86 24.59 L241.00 24.28 L241.14 23.97 L241.29 23.66 L241.43 23.35 L241.58 23.04 L241.72 22.73 L241.86 22.42 L242.01 22.10 L242.15 21.79 L242.30 21.48 L242.44 21.17 L242.58 20.86 L242.73 20.55 L242.87 20.23 L243.02 19.92 L243.16 19.61 L243.30 19.30 L243.45 18.98 L243.59 18.67 L243.74 18.36 L243.88 18.04 L244.02 17.73 L244.17 17.42 L244.31 17.11 L244.46 16.79 L244.60 16.48 L244.74 16.17 L244.89 15.85 L245.03 15.54 L245.18 15.22 L245.32 14.91 L245.46 14.60 L245.61 14.28 L245.75 13.97 L245.90 13.65 L246.04 13.34 L246.18 13.02 L246.33 12.71 L246.47 12.40 L246.62 12.08 L246.76 11.77 L246.90 11.45 L247.05 11.14 L247.19 10.82 L247.34 10.50 L247.48 10.19 L247.62 9.87 L247.77 9.56 L247.91 9.24 L248.06 8.93 L248.20 8.61 L248.34 8.30 L248.49 7.98 L248.63 7.66 L248.78 7.35 L248.92 7.03 L249.06 6.71 L249.21 6.40 L249.35 6.08 L249.50 5.76 L249.64 5.45 L249.78 5.13 L249.93 4.81 L250.07 4.50 L250.22 4.18 L250.36 3.86 L250.50 3.54 L250.65 3.23 L250.79 2.91 L250.94 2.59 L251.08 2.27 L251.22 1.96 L251.37 1.64 L251.51 1.32 L251.66 1.00 L251.80 0.68 L251.94 0.36 L252.09 0.05 L252.23 -0.27 L252.38 -0.59 L252.52 -0.91 L252.66 -1.23 L252.81 -1.55 L252.95 -1.87 L253.10 -2.19 L253.24 -2.51 L253.38 -2.82 L253.53 -3.14 L253.67 -3.46 L253.82 -3.78 L253.96 -4.10 L254.10 -4.42 L254.25 -4.74 L254.39 -5.06 L254.54 -5.38 L254.68 -5.70 L254.82 -6.02 L254.97 -6.34 L255.11 -6.66 L255.26 -6.98 L255.40 -7.30 L255.54 -7.63 L255.69 -7.95 L255.83 -8.27 L255.98 -8.59 L256.12 -8.91 L256.26 -9.23 L256.41 -9.55 L256.55 -9.87 L256.70 -10.19 L256.84 -10.51 L256.98 -10.84 L257.13 -11.16 L257.27 -11.48 L257.42 -11.80 L257.56 -12.12 L257.70 -12.45 L257.85 -12.77 L257.99 -13.09 L258.14 -13.41 L258.28 -13.73 L258.42 -14.06 L258.57 -14.38 L258.71 -14.70 L258.86 -15.02 L259.00 -15.35 L259.14 -15.67 L259.29 -15.99 L259.43 -16.32 L259.58 -16.64 L259.72 -16.96 L259.86 -17.29 L260.01 -17.61 L260.15 -17.93 L260.30 -18.26 L260.44 -18.58 L260.58 -18.90 L260.73 -19.23 L260.87 -19.55 L261.02 -19.88 L261.16 -20.20 L261.30 -20.52 L261.45 -20.85 L261.59 -21.17 L261.74 -21.50 L261.88 -21.82 L262.02 -22.15 L262.17 -22.47 L262.31 -22.79 L262.46 -23.12 L262.60 -23.44" stroke="#ff0000" stroke-dasharray="7.74 7.74" stroke-dashoffset="10.41"/>
<path d="M255.40 52.96 L255.52 52.76 L255.64 52.56 L255.76 52.35 L255.88 52.15 L256.00 51.95 L256.12 51.75 L256.24 51.55 L256.36 51.35 L256.48 51.15 L256.60 50.95 L256.72 50.74 L256.84 50.54 L256.96 50.34 L257.08 50.14 L257.20 49.94 L257.32 49.74 L257.44 49.53 L257.56 49.33 L257.68 49.13 L257.80 48.93 L257.92 48.73 L258.04 48.52 L258.16 48.32 L258.28 48.12 L258.40 47.92 L258.52 47.72 L258.64 47.51 L258.76 47.31 L258.88 47.11 L259.00 46.91 L259.12 46.70 L259.24 46.50 L259.36 46.30 L259.48 46.10 L259.60 45.89 L259.72 45.69 L259.84 45.49 L259.96 45.29 L260.08 45.08 L260.20 44.88 L260.32 44.68 L260.44 44.47 L260.56 44.27 L260.68 44.07 L260.80 43.87 L260.92 43.66 L261.04 43.46 L261.16 43.26 L261.28 43.05 L261.40 42.85 L261.52 42.65 L261.64 42.44 L261.76 42.24 L261.88 42.04 L262.00 41.83 L262.12 41.63 L262.24 41.43 L262.36 41.22 L262.48 41.02 L262.60 40.82 L262.72 40.61 L262.84 40.41 L262.96 40.20 L263.08 40.00 L263.20 39.80 L263.32 39.59 L263.44 39.39 L263.56 39.19 L263.68 38.98 L263.80 38.78 L263.92 38.57 L264.04 38.37 L264.16 38.17 L264.28 37.96 L264.40 37.76 L264.52 37.55 L264.64 37.35 L264.76 37.14 L264.88 36.94 L265.00 36.73 L265.12 36.53 L265.24 36.33 L265.36 36.12 L265.48 35.92 L265.60 35.71 L265.72 35.51 L265.84 35.30 L265.96 35.10 L266.08 34.89 L266.20 34.69 L266.32 34.48 L266.44 34.28 L266.56 34.07 L266.68 33.87 L266.80 33.66 L266.92 33.46 L267.04 33.25 L267.16 33.05 L267.28 32.84 L267.40 32.64 L267.52 32.43 L267.64 32.23 L267.76 32.02 L267.88 31.82 L268.00 31.61 L268.12 31.41 L268.24 31.20 L268.36 31.00 L268.48 30.79 L268.60 30.58 L268.72 30.38 L268.84 30.17 L268.96 29.97 L269.08 29.76 L269.20 29.56 L269.32 29.35 L269.44 29.14 L269.56 28.94 L269.68 28.73 L269.80 28.53 L269.92 28.32 L270.04 28.11 L270.16 27.91 L270.28 27.70 L270.40 27.50 L270.52 27.29 L270.64 27.08 L270.76 26.88 L270.88 26.67 L271.00 26.46 L271.12 26.26 L271.24 26.05 L271.36 25.84 L271.48 25.64 L271.60 25.43 L271.72 25.23 L271.84 25.02 L271.96 24.81 L272.08 24.61 L272.20 24.40 L272.32 24.19 L272.44 23.99 L272.56 23.78 L272.68 23.57 L272.80 23.36 L272.92 23.16 L273.04 22.95 L273.16 22.74 L273.28 22.54 L273.40 22.33 L273.52 22.12 L273.64 21.92 L273.76 21.71 L273.88 21.50 L274.00 21.29 L274.12 21.09 L274.24 20.88 L274.36 20.67 L274.48 20.46 L274.60 20.26 L274.72 20.05 L274.84 19.84 L274.96 19.63 L275.08 19.43 L275.20 19.22 L275.32 19.01 L275.44 18.80 L275.56 18.60 L275.68 18.39 L275.80 18.18 L275.92 17.97 L276.04 17.76 L276.16 17.56 L276.28 17.35 L276.40 17.14 L276.52 16.93 L276.64 16.72 L276.76 16.52 L276.88 16.31 L277.00 16.10 L277.12 15.89 L277.24 15.68 L277.36 15.48 L277.48 15.27 L277.60 15.06 L277.72 14.85 L277.84 14.64 L277.96 14.43 L278.08 14.22 L278.20 14.02 L278.32 13.81 L278.44 13.60 L278.56 13.39 L278.68 13.18 L278.80 12.97 L278.92 12.76 L279.04 12.56 L279.16 12.35 L279.28 12.14 L279.40 11.93 L279.52 11.72 L279.64 11.51 L279.76 11.30 L279.88 11.09 L280.00 10.88 L280.12 10.68 L280.24 10.47 L280.36 10.26 L280.48 10.05 L280.60 9.84 L280.72 9.63 L280.84 9.42 L280.96 9.21 L281.08 9.00 L281.20 8.79 L281.32 8.58 L281.44 8.37 L281.56 8.16 L281.68 7.95 L281.80 7.75 L281.92 7.54 L282.04 7.33 L282.16 7.12 L282.28 6.91 L282.40 6.70 L282.52 6.49 L282.64 6.28 L282.76 6.07 L282.88 5.86 L283.00 5.65 L283.12 5.44 L283.24 5.23 L283.36 5.02 L283.48 4.81 L283.60 4.60 L283.72 4.39 L283.84 4.18 L283.96 3.97 L284.08 3.76 L284.20 3.55 L284.32 3.34 L284.44 3.13 L284.56 2.92 L284.68 2.71 L284.80 2.50 L284.92 2.29 L285.04 2.08 L285.16 1.87 L285.28 1.65 L285.40 1.44 L285.52 1.23 L285.64 1.02 L285.76 0.81 L285.88 0.60 L286.00 0.39 L286.12 0.18 L286.24 -0.03 L286.36 -0.24 L286.48 -0.45 L286.60 -0.66 L286.72 -0.87 L286.84 -1.08 L286.96 -1.30 L287.08 -1.51 L287.20 -1.72 L287.32 -1.93 L287.44 -2.14 L287.56 -2.35 L287.68 -2.56 L287.80 -2.77 L287.92 -2.98 L288.04 -3.19 L288.16 -3.41 L288.28 -3.62 L288.40 -3.83 L288.52 -4.04 L288.64 -4.25 L288.76 -4.46 L288.88 -4.67 L289.00 -4.89 L289.12 -5.10 L289.24 -5.31 L289.36 -5.52 L289.48 -5.73 L289.60 -5.94 L289.72 -6.15 L289.84 -6.37 L289.96 -6.58 L290.08 -6.79 L290.20 -7.00 L290.32 -7.21 L290.44 -7.43 L290.56 -7.64 L290.68 -7.85 L290.80 -8.06 L290.92 -8.27 L291.04 -8.48 L291.16 -8.70 L291.28 -8.91 L291.40 -9.12" stroke="#00ff00" stroke-dasharray="7.74 7.74" stroke-dashoffset="0.14"/>
</g>
<rect x="79.3" y="19.2" width="220.8" height="88.5" fill="#000"/>
<rect x="77.5" y="17.5" width="220.5" height="88.1" fill="#fff" stroke="#858585" stroke-width="1"/>
<path d="M79.3 105.6H298V19.2" fill="none" stroke="#000" stroke-width="1"/>
<path d="M106.7 29.8H136.5" stroke="#ff0000" stroke-width="3.3" fill="none"/>
<path d="M106.7 50.9H136.5" stroke="#0000ff" stroke-width="3.3" fill="none"/>
<path d="M106.7 72.0H136.5" stroke="#00ff00" stroke-width="3.3" fill="none"/>
<path d="M106.7 93.2H136.5" stroke="#000000" stroke-width="3.3" fill="none"/>
<g fill="none" stroke="#000" stroke-width="58" stroke-linecap="round" stroke-linejoin="round">
<g transform="translate(55.40 249.00) scale(0.01280 -0.01228)"><path d="M300 0V612L125 525M125 0H475"/></g>
<g transform="translate(39.56 171.30) scale(0.01280 -0.01228)"><path d="M300 0V612L125 525M125 0H475"/></g><g transform="translate(47.48 171.30) scale(0.01280 -0.01228)"><path d="M300 -25A85 85 0 1 0 300 145A85 85 0 1 0 300 -25Z" fill="#000" stroke="none"/></g><g transform="translate(55.40 171.30) scale(0.01280 -0.01228)"><path d="M300 0V612L125 525M125 0H475"/></g>
<g transform="translate(39.56 93.90) scale(0.01280 -0.01228)"><path d="M300 0V612L125 525M125 0H475"/></g><g transform="translate(47.48 93.90) scale(0.01280 -0.01228)"><path d="M300 -25A85 85 0 1 0 300 145A85 85 0 1 0 300 -25Z" fill="#000" stroke="none"/></g><g transform="translate(55.40 93.90) scale(0.01280 -0.01228)"><path d="M100 430C100 540 185 612 290 612C395 612 470 540 470 440C470 330 370 260 85 15V0H490V55"/></g>
<g transform="translate(39.56 16.20) scale(0.01280 -0.01228)"><path d="M300 0V612L125 525M125 0H475"/></g><g transform="translate(47.48 16.20) scale(0.01280 -0.01228)"><path d="M300 -25A85 85 0 1 0 300 145A85 85 0 1 0 300 -25Z" fill="#000" stroke="none"/></g><g transform="translate(55.40 16.20) scale(0.01280 -0.01228)"><path d="M115 570C170 600 225 612 285 612C385 612 450 550 450 465C450 385 385 330 275 325C395 325 485 265 485 165C485 60 395 -12 280 -12C195 -12 125 20 80 65"/></g>
<g transform="translate(71.76 258.20) scale(0.01280 -0.01228)"><path d="M300 612C190 612 125 490 125 300C125 110 190 -12 300 -12C410 -12 475 110 475 300C475 490 410 612 300 612Z"/></g>
<g transform="translate(143.76 258.20) scale(0.01280 -0.01228)"><path d="M100 430C100 540 185 612 290 612C395 612 470 540 470 440C470 330 370 260 85 15V0H490V55"/></g>
<g transform="translate(215.76 258.20) scale(0.01280 -0.01228)"><path d="M375 0V612L95 185H490M270 0H480"/></g>
<g transform="translate(287.76 258.20) scale(0.01280 -0.01228)"><path d="M465 585C420 603 380 612 345 612C200 612 120 460 120 245C120 90 190 -12 305 -12C410 -12 480 70 480 185C480 300 405 375 310 375C220 375 150 315 122 215"/></g>
<g transform="translate(359.76 258.20) scale(0.01280 -0.01228)"><path d="M300 325C215 325 155 385 155 468C155 552 215 612 300 612C385 612 445 552 445 468C445 385 385 325 300 325C205 325 135 255 135 158C135 58 205 -12 300 -12C395 -12 465 58 465 158C465 255 395 325 300 325Z"/></g>
<g transform="translate(427.72 258.20) scale(0.01280 -0.01228)"><path d="M300 0V612L125 525M125 0H475"/></g>
<g transform="translate(435.00 258.20) scale(0.01280 -0.01228)"><path d="M300 612C190 612 125 490 125 300C125 110 190 -12 300 -12C410 -12 475 110 475 300C475 490 410 612 300 612Z"/></g>
<g transform="translate(224.42 273.70) scale(0.01280 -0.01228)"><path d="M300 640V-160"/></g><g transform="translate(232.34 273.70) scale(0.01280 -0.01228)"><path d="M75 215H525C525 345 430 437 300 437C170 437 75 340 75 210C75 80 170 -12 310 -12C400 -12 470 15 525 65"/></g><g transform="translate(240.26 273.70) scale(0.01280 -0.01228)"><path d="M300 640V-160"/></g><g transform="translate(248.18 273.70) scale(0.01280 -0.01228)"><path d="M50 563L300 0L550 563M5 563H165M435 563H595"/></g><g transform="translate(256.10 273.70) scale(0.01280 -0.01228)"><path d="M445 675L155 -80"/></g><g transform="translate(264.02 273.70) scale(0.01280 -0.01228)"><path d="M80 613H170V0M80 0H255M170 195L445 417M270 275L470 0M360 417H535M395 0H555"/></g><g stroke-width="64" transform="translate(271.82 275.90) scale(0.00941 -0.00970)"><path d="M60 563H330C425 563 480 510 480 430C480 350 420 300 330 300H150M330 300C450 300 520 240 520 150C520 60 450 0 340 0H60M150 563V0"/></g><g transform="translate(277.58 273.70) scale(0.01280 -0.01228)"><path d="M65 415V563H535V415M300 563V0M180 0H420"/></g>
<g transform="translate(30.6 154.2) rotate(-90)"><g transform="translate(0.12 0.00) scale(0.01280 -0.01228)"><path d="M20 563H115L485 0V563M390 563H575M30 0H210M115 563V0"/></g><g transform="translate(8.04 0.00) scale(0.01280 -0.01228)"><path d="M65 415V563H535V415M300 563V0M180 0H420"/></g><g stroke-width="64" transform="translate(15.84 2.20) scale(0.00941 -0.00970)"><path d="M75 215H525C525 345 430 437 300 437C170 437 75 340 75 210C75 80 170 -12 310 -12C400 -12 470 15 525 65"/></g><g stroke-width="64" transform="translate(21.48 2.20) scale(0.00941 -0.00970)"><path d="M510 590C465 605 425 613 385 613C290 613 235 565 235 480V0M110 417H480M110 0H450"/></g><g stroke-width="64" transform="translate(27.12 2.20) scale(0.00941 -0.00970)"><path d="M510 590C465 605 425 613 385 613C290 613 235 565 235 480V0M110 417H480M110 0H450"/></g><g transform="translate(32.88 0.00) scale(0.01280 -0.01228)"><path d="M445 675L155 -80"/></g><g transform="translate(40.80 0.00) scale(0.01280 -0.01228)"><path d="M65 415V563H535V415M300 563V0M180 0H420"/></g></g>
<g transform="translate(166.32 32.80) scale(0.01280 -0.01228)"><path d="M65 415V563H535V415M300 563V0M180 0H420"/></g><g stroke-width="64" transform="translate(173.45 35.00) scale(0.00941 -0.00970)"><path d="M75 215H525C525 345 430 437 300 437C170 437 75 340 75 210C75 80 170 -12 310 -12C400 -12 470 15 525 65"/></g><g stroke-width="64" transform="translate(179.09 35.00) scale(0.00941 -0.00970)"><path d="M510 590C465 605 425 613 385 613C290 613 235 565 235 480V0M110 417H480M110 0H450"/></g><g stroke-width="64" transform="translate(184.73 35.00) scale(0.00941 -0.00970)"><path d="M510 590C465 605 425 613 385 613C290 613 235 565 235 480V0M110 417H480M110 0H450"/></g><g stroke-width="64" transform="translate(190.37 35.00) scale(0.00941 -0.00970)"><path d="M215 165L85 -85" stroke-width="100"/></g><g stroke-width="64" transform="translate(196.01 35.00) scale(0.00941 -0.00970)"><path d="M110 417L490 -10M490 417L110 -10M60 417H190M410 417H540M50 -10H190M410 -10H550"/></g><g transform="translate(204.47 32.80) scale(0.01280 -0.01228)"><path d="M300 2A70 70 0 1 0 300 142A70 70 0 1 0 300 2ZM300 317A70 70 0 1 0 300 457A70 70 0 1 0 300 317Z" fill="#000" stroke="none"/></g><g transform="translate(213.17 32.80) scale(0.01280 -0.01228)"><path d="M300 570L50 0H550Z" stroke-width="46" stroke="#444"/></g><g transform="translate(221.09 32.80) scale(0.01280 -0.01228)"><path d="M445 675L155 -80"/></g><g transform="translate(229.01 32.80) scale(0.01280 -0.01228)"><path d="M100 430C100 540 185 612 290 612C395 612 470 540 470 440C470 330 370 260 85 15V0H490V55"/></g><g transform="translate(236.93 32.80) scale(0.01280 -0.01228)"><path d="M420 375C380 420 320 440 255 440C165 440 100 398 100 328C100 265 160 228 260 225C140 223 60 178 60 102C60 28 140 -15 245 -15C330 -15 395 10 445 58" stroke-width="46" stroke="#444"/></g><g stroke-width="64" transform="translate(244.28 35.00) scale(0.00941 -0.00970)"><path d="M175 563V0M85 563H525V420M175 290H400M400 355V225M85 0H335"/></g><g transform="translate(250.87 32.80) scale(0.01280 -0.01228)"><path d="M95 268H495M95 88H495"/></g><g transform="translate(258.79 32.80) scale(0.01280 -0.01228)"><path d="M300 612C190 612 125 490 125 300C125 110 190 -12 300 -12C410 -12 475 110 475 300C475 490 410 612 300 612Z"/></g><g transform="translate(266.71 32.80) scale(0.01280 -0.01228)"><path d="M300 -25A85 85 0 1 0 300 145A85 85 0 1 0 300 -25Z" fill="#000" stroke="none"/></g><g transform="translate(274.63 32.80) scale(0.01280 -0.01228)"><path d="M135 15C180 -3 220 -12 255 -12C400 -12 480 140 480 355C480 510 410 612 295 612C190 612 120 530 120 415C120 300 195 225 290 225C380 225 450 285 478 385"/></g>
<g transform="translate(213.97 54.30) scale(0.01280 -0.01228)"><path d="M300 570L50 0H550Z" stroke-width="46" stroke="#444"/></g><g transform="translate(221.89 54.30) scale(0.01280 -0.01228)"><path d="M445 675L155 -80"/></g><g transform="translate(229.81 54.30) scale(0.01280 -0.01228)"><path d="M100 430C100 540 185 612 290 612C395 612 470 540 470 440C470 330 370 260 85 15V0H490V55"/></g><g transform="translate(237.73 54.30) scale(0.01280 -0.01228)"><path d="M420 375C380 420 320 440 255 440C165 440 100 398 100 328C100 265 160 228 260 225C140 223 60 178 60 102C60 28 140 -15 245 -15C330 -15 395 10 445 58" stroke-width="46" stroke="#444"/></g><g stroke-width="64" transform="translate(245.08 56.50) scale(0.00941 -0.00970)"><path d="M175 563V0M85 563H525V420M175 290H400M400 355V225M85 0H335"/></g><g transform="translate(251.67 54.30) scale(0.01280 -0.01228)"><path d="M95 268H495M95 88H495"/></g><g transform="translate(259.59 54.30) scale(0.01280 -0.01228)"><path d="M300 612C190 612 125 490 125 300C125 110 190 -12 300 -12C410 -12 475 110 475 300C475 490 410 612 300 612Z"/></g><g transform="translate(267.51 54.30) scale(0.01280 -0.01228)"><path d="M300 -25A85 85 0 1 0 300 145A85 85 0 1 0 300 -25Z" fill="#000" stroke="none"/></g><g transform="translate(275.43 54.30) scale(0.01280 -0.01228)"><path d="M465 585C420 603 380 612 345 612C200 612 120 460 120 245C120 90 190 -12 305 -12C410 -12 480 70 480 185C480 300 405 375 310 375C220 375 150 315 122 215"/></g>
<g transform="translate(166.32 75.70) scale(0.01280 -0.01228)"><path d="M65 415V563H535V415M300 563V0M180 0H420"/></g><g stroke-width="64" transform="translate(173.45 77.90) scale(0.00941 -0.00970)"><path d="M75 215H525C525 345 430 437 300 437C170 437 75 340 75 210C75 80 170 -12 310 -12C400 -12 470 15 525 65"/></g><g stroke-width="64" transform="translate(179.09 77.90) scale(0.00941 -0.00970)"><path d="M510 590C465 605 425 613 385 613C290 613 235 565 235 480V0M110 417H480M110 0H450"/></g><g stroke-width="64" transform="translate(184.73 77.90) scale(0.00941 -0.00970)"><path d="M510 590C465 605 425 613 385 613C290 613 235 565 235 480V0M110 417H480M110 0H450"/></g><g stroke-width="64" transform="translate(190.37 77.90) scale(0.00941 -0.00970)"><path d="M215 165L85 -85" stroke-width="100"/></g><g stroke-width="64" transform="translate(196.01 77.90) scale(0.00941 -0.00970)"><path d="M330 430C200 430 95 330 85 205C78 90 150 0 270 0C400 0 505 100 515 225C522 340 450 430 330 430ZM395 640L205 -210" stroke-width="46" stroke="#444"/></g><g transform="translate(204.47 75.70) scale(0.01280 -0.01228)"><path d="M300 2A70 70 0 1 0 300 142A70 70 0 1 0 300 2ZM300 317A70 70 0 1 0 300 457A70 70 0 1 0 300 317Z" fill="#000" stroke="none"/></g><g transform="translate(213.17 75.70) scale(0.01280 -0.01228)"><path d="M300 570L50 0H550Z" stroke-width="46" stroke="#444"/></g><g transform="translate(221.09 75.70) scale(0.01280 -0.01228)"><path d="M445 675L155 -80"/></g><g transform="translate(229.01 75.70) scale(0.01280 -0.01228)"><path d="M100 430C100 540 185 612 290 612C395 612 470 540 470 440C470 330 370 260 85 15V0H490V55"/></g><g transform="translate(236.93 75.70) scale(0.01280 -0.01228)"><path d="M420 375C380 420 320 440 255 440C165 440 100 398 100 328C100 265 160 228 260 225C140 223 60 178 60 102C60 28 140 -15 245 -15C330 -15 395 10 445 58" stroke-width="46" stroke="#444"/></g><g stroke-width="64" transform="translate(244.28 77.90) scale(0.00941 -0.00970)"><path d="M175 563V0M85 563H525V420M175 290H400M400 355V225M85 0H335"/></g><g transform="translate(250.87 75.70) scale(0.01280 -0.01228)"><path d="M95 268H495M95 88H495"/></g><g transform="translate(258.79 75.70) scale(0.01280 -0.01228)"><path d="M300 612C190 612 125 490 125 300C125 110 190 -12 300 -12C410 -12 475 110 475 300C475 490 410 612 300 612Z"/></g><g transform="translate(266.71 75.70) scale(0.01280 -0.01228)"><path d="M300 -25A85 85 0 1 0 300 145A85 85 0 1 0 300 -25Z" fill="#000" stroke="none"/></g><g transform="translate(274.63 75.70) scale(0.01280 -0.01228)"><path d="M135 15C180 -3 220 -12 255 -12C400 -12 480 140 480 355C480 510 410 612 295 612C190 612 120 530 120 415C120 300 195 225 290 225C380 225 450 285 478 385"/></g>
<g transform="translate(213.97 96.60) scale(0.01280 -0.01228)"><path d="M300 570L50 0H550Z" stroke-width="46" stroke="#444"/></g><g transform="translate(221.89 96.60) scale(0.01280 -0.01228)"><path d="M445 675L155 -80"/></g><g transform="translate(229.81 96.60) scale(0.01280 -0.01228)"><path d="M100 430C100 540 185 612 290 612C395 612 470 540 470 440C470 330 370 260 85 15V0H490V55"/></g><g transform="translate(237.73 96.60) scale(0.01280 -0.01228)"><path d="M420 375C380 420 320 440 255 440C165 440 100 398 100 328C100 265 160 228 260 225C140 223 60 178 60 102C60 28 140 -15 245 -15C330 -15 395 10 445 58" stroke-width="46" stroke="#444"/></g><g stroke-width="64" transform="translate(245.08 98.80) scale(0.00941 -0.00970)"><path d="M175 563V0M85 563H525V420M175 290H400M400 355V225M85 0H335"/></g><g transform="translate(251.67 96.60) scale(0.01280 -0.01228)"><path d="M95 268H495M95 88H495"/></g><g transform="translate(259.59 96.60) scale(0.01280 -0.01228)"><path d="M300 612C190 612 125 490 125 300C125 110 190 -12 300 -12C410 -12 475 110 475 300C475 490 410 612 300 612Z"/></g><g transform="translate(267.51 96.60) scale(0.01280 -0.01228)"><path d="M300 -25A85 85 0 1 0 300 145A85 85 0 1 0 300 -25Z" fill="#000" stroke="none"/></g><g transform="translate(275.43 96.60) scale(0.01280 -0.01228)"><path d="M465 585C420 603 380 612 345 612C200 612 120 460 120 245C120 90 190 -12 305 -12C410 -12 480 70 480 185C480 300 405 375 310 375C220 375 150 315 122 215"/></g>
</g>
</svg>
</body></html>
